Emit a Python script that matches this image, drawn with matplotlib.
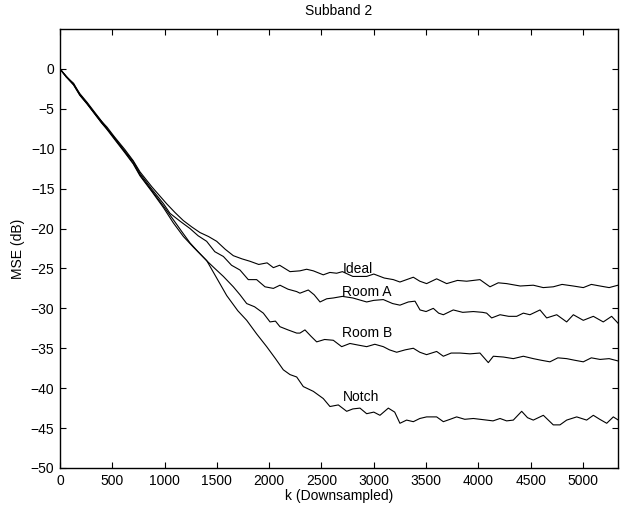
import numpy as np
import matplotlib
matplotlib.use("Agg")
import matplotlib.pyplot as plt

plt.rcParams['font.family'] = ['Liberation Sans', 'DejaVu Sans']

# Ideal
k_ideal = [0, 60, 130, 190, 260, 330, 400, 450, 520, 620, 700, 765, 880, 1020, 1100,
           1179, 1260, 1338, 1420, 1498, 1580, 1657, 1740, 1816, 1900, 1980, 2040, 2100,
           2199, 2294, 2358, 2422, 2517, 2580, 2645, 2700, 2800, 2932, 3000, 3100, 3187,
           3250, 3378, 3440, 3505, 3601, 3697, 3800, 3888, 4015, 4111, 4190, 4270, 4400,
           4525, 4620, 4716, 4800, 4907, 5003, 5080, 5163, 5250, 5335]
mse_ideal = [0, -0.9, -1.9, -3.1, -4.2, -5.4, -6.6, -7.3, -8.5, -10.1, -11.5, -12.9, -14.8,
             -16.9, -18.0, -19.0, -19.8, -20.5, -21.0, -21.6, -22.6, -23.4, -23.8, -24.1,
             -24.5, -24.3, -24.9, -24.6, -25.4, -25.3, -25.1, -25.3, -25.8, -25.5, -25.6,
             -25.4, -26.0, -26.0, -25.7, -26.2, -26.4, -26.7, -26.1, -26.6, -26.9, -26.3,
             -26.9, -26.5, -26.6, -26.4, -27.3, -26.8, -26.9, -27.2, -27.1, -27.4, -27.3,
             -27.0, -27.2, -27.4, -27.0, -27.2, -27.4, -27.1]

# Room A
k_room_a = [0, 60, 130, 190, 260, 330, 400, 450, 520, 620, 700, 765, 880, 990, 1052, 1150,
            1243, 1320, 1402, 1480, 1562, 1640, 1721, 1800, 1880, 1960, 2040, 2103, 2180,
            2263, 2294, 2374, 2430, 2486, 2550, 2613, 2700, 2800, 2932, 3000, 3091, 3180,
            3250, 3330, 3394, 3442, 3500, 3569, 3620, 3665, 3760, 3850, 3952, 4040, 4079,
            4127, 4207, 4290, 4366, 4430, 4493, 4589, 4653, 4749, 4844, 4908, 5003, 5099,
            5194, 5274, 5338]
mse_room_a = [0, -1.0, -1.8, -3.2, -4.3, -5.5, -6.6, -7.5, -8.6, -10.3, -11.6, -13.1, -15.1,
              -16.9, -18.1, -19.1, -20.0, -20.9, -21.6, -22.9, -23.5, -24.6, -25.2, -26.4,
              -26.4, -27.3, -27.5, -27.1, -27.6, -27.9, -28.1, -27.7, -28.3, -29.2, -28.8,
              -28.7, -28.5, -28.7, -29.2, -29.0, -28.9, -29.4, -29.6, -29.2, -29.1, -30.2,
              -30.4, -30.0, -30.6, -30.8, -30.2, -30.5, -30.4, -30.5, -30.6, -31.2, -30.8,
              -31.0, -31.0, -30.6, -30.8, -30.2, -31.2, -30.8, -31.7, -30.8, -31.5, -31.0,
              -31.7, -31.0, -31.9]

# Room B
k_room_b = [0, 60, 130, 190, 260, 330, 400, 450, 520, 620, 700, 765, 880, 990, 1084, 1160,
            1243, 1320, 1400, 1480, 1562, 1657, 1721, 1785, 1860, 1944, 2008, 2060, 2103,
            2180, 2263, 2294, 2342, 2400, 2454, 2530, 2613, 2693, 2772, 2850, 2932, 3010,
            3091, 3150, 3219, 3300, 3378, 3440, 3505, 3601, 3665, 3740, 3824, 3920, 4015,
            4095, 4143, 4240, 4334, 4430, 4525, 4600, 4684, 4760, 4844, 4920, 5003, 5080,
            5163, 5250, 5338]
mse_room_b = [0, -1.0, -2.0, -3.3, -4.4, -5.6, -6.8, -7.5, -8.7, -10.4, -11.8, -13.3, -15.3,
              -17.2, -18.9, -20.3, -21.8, -22.9, -24.0, -25.0, -26.0, -27.3, -28.3, -29.4,
              -29.8, -30.6, -31.7, -31.6, -32.3, -32.7, -33.1, -33.1, -32.7, -33.5, -34.2,
              -33.9, -34.0, -34.8, -34.4, -34.6, -34.8, -34.5, -34.8, -35.2, -35.5, -35.2,
              -35.0, -35.5, -35.8, -35.4, -36.0, -35.6, -35.6, -35.7, -35.6, -36.8, -36.0,
              -36.1, -36.3, -36.0, -36.3, -36.5, -36.7, -36.2, -36.3, -36.5, -36.7, -36.2,
              -36.4, -36.3, -36.6]

# Notch
k_notch = [0, 60, 130, 190, 260, 330, 400, 450, 520, 620, 700, 765, 880, 990, 1084, 1180,
           1280, 1402, 1498, 1594, 1700, 1785, 1880, 1976, 2060, 2135, 2199, 2263, 2326,
           2422, 2517, 2581, 2661, 2741, 2800, 2868, 2932, 3000, 3059, 3139, 3200, 3250,
           3314, 3378, 3440, 3505, 3601, 3665, 3730, 3792, 3870, 3952, 4079, 4140, 4207,
           4270, 4334, 4414, 4470, 4525, 4621, 4716, 4780, 4844, 4940, 5035, 5099, 5160,
           5227, 5290, 5338]
mse_notch = [0, -1.0, -2.0, -3.3, -4.4, -5.6, -6.8, -7.6, -8.8, -10.5, -11.9, -13.4, -15.4,
             -17.4, -19.3, -21.0, -22.4, -24.0, -26.2, -28.4, -30.3, -31.5, -33.2, -34.8,
             -36.3, -37.7, -38.3, -38.6, -39.8, -40.4, -41.3, -42.3, -42.1, -42.9, -42.6,
             -42.5, -43.2, -43.0, -43.4, -42.5, -43.0, -44.4, -44.0, -44.2, -43.8, -43.6,
             -43.6, -44.2, -43.9, -43.6, -43.9, -43.8, -44.0, -44.1, -43.8, -44.1, -44.0,
             -42.9, -43.7, -44.0, -43.4, -44.6, -44.6, -44.0, -43.6, -44.0, -43.4, -43.9,
             -44.4, -43.6, -44.0]

curves = [
    ("Ideal",  k_ideal,  mse_ideal,  -25.1),
    ("Room A", k_room_a, mse_room_a, -28.0),
    ("Room B", k_room_b, mse_room_b, -33.1),
    ("Notch",  k_notch,  mse_notch,  -41.1),
]
label_k = 2700

fig = plt.figure(figsize=(6.23, 5.09), dpi=100)
ax = fig.add_axes([0.0963, 0.0806, 0.8957, 0.8624])

for name, k, mse, ly in curves:
    ax.plot(k, mse, color="black", lw=0.8)
    ax.text(label_k, ly, name, fontsize=10, ha="left", va="center")

ax.set_xlim(0, 5335)
ax.set_ylim(-50, 5)
ax.set_xticks(np.arange(0, 5001, 500))
ax.set_yticks(np.arange(-50, 1, 5))
ax.tick_params(direction="in", top=True, right=True, length=4, labelsize=10, pad=4)
for s in ax.spines.values():
    s.set_linewidth(1.0)

ax.set_title("Subband 2", fontsize=10, pad=10)
ax.set_xlabel("k (Downsampled)", fontsize=10, labelpad=1)
ax.set_ylabel("MSE (dB)", fontsize=10, labelpad=4)

fig.savefig("out.png", dpi=100)
